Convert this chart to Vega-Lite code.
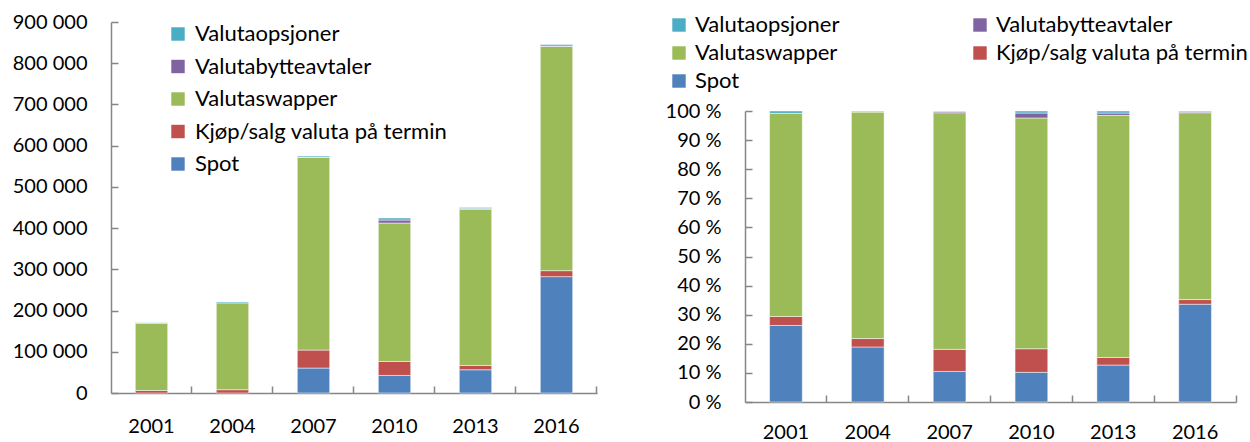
{
  "$schema": "https://vega.github.io/schema/vega-lite/v6.json",
  "padding": {"left": 12, "top": 12, "right": 0, "bottom": 0},
  "background": "white",
  "config": {
    "view": {"stroke": null},
    "font": "Lato",
    "axis": {
      "domainColor": "#868686",
      "domainWidth": 1.5,
      "tickColor": "#868686",
      "tickWidth": 1.5,
      "tickSize": -7,
      "labelFontSize": 20,
      "labelColor": "#000000",
      "labelFont": "Lato",
      "grid": false,
      "title": null
    },
    "legend": {
      "labelFontSize": 22,
      "labelFont": "Lato",
      "labelColor": "#000000",
      "symbolType": "square",
      "symbolStrokeWidth": 0,
      "symbolOpacity": 1,
      "symbolSize": 180,
      "padding": 0,
      "labelLimit": 400
    }
  },
  "datasets": {
    "abs": [
      {"year": "2001", "instrument": "Kjøp/salg valuta på termin", "rank": 2, "value": 6000},
      {"year": "2001", "instrument": "Valutaswapper", "rank": 3, "value": 162700},
      {"year": "2001", "instrument": "Valutaopsjoner", "rank": 5, "value": 1500},
      {"year": "2004", "instrument": "Kjøp/salg valuta på termin", "rank": 2, "value": 8000},
      {"year": "2004", "instrument": "Valutaswapper", "rank": 3, "value": 210500},
      {"year": "2004", "instrument": "Valutaopsjoner", "rank": 5, "value": 2500},
      {"year": "2007", "instrument": "Spot", "rank": 1, "value": 60500},
      {"year": "2007", "instrument": "Kjøp/salg valuta på termin", "rank": 2, "value": 43600},
      {"year": "2007", "instrument": "Valutaswapper", "rank": 3, "value": 467300},
      {"year": "2007", "instrument": "Valutabytteavtaler", "rank": 4, "value": 1000},
      {"year": "2007", "instrument": "Valutaopsjoner", "rank": 5, "value": 2500},
      {"year": "2010", "instrument": "Spot", "rank": 1, "value": 42600},
      {"year": "2010", "instrument": "Kjøp/salg valuta på termin", "rank": 2, "value": 33900},
      {"year": "2010", "instrument": "Valutaswapper", "rank": 3, "value": 335800},
      {"year": "2010", "instrument": "Valutabytteavtaler", "rank": 4, "value": 7300},
      {"year": "2010", "instrument": "Valutaopsjoner", "rank": 5, "value": 4800},
      {"year": "2013", "instrument": "Spot", "rank": 1, "value": 56400},
      {"year": "2013", "instrument": "Kjøp/salg valuta på termin", "rank": 2, "value": 10400},
      {"year": "2013", "instrument": "Valutaswapper", "rank": 3, "value": 378700},
      {"year": "2013", "instrument": "Valutabytteavtaler", "rank": 4, "value": 2000},
      {"year": "2013", "instrument": "Valutaopsjoner", "rank": 5, "value": 2800},
      {"year": "2016", "instrument": "Spot", "rank": 1, "value": 282300},
      {"year": "2016", "instrument": "Kjøp/salg valuta på termin", "rank": 2, "value": 14500},
      {"year": "2016", "instrument": "Valutaswapper", "rank": 3, "value": 544000},
      {"year": "2016", "instrument": "Valutabytteavtaler", "rank": 4, "value": 1000},
      {"year": "2016", "instrument": "Valutaopsjoner", "rank": 5, "value": 3900}
    ],
    "pct": [
      {"year": "2001", "instrument": "Spot", "rank": 1, "value": 26.3},
      {"year": "2001", "instrument": "Kjøp/salg valuta på termin", "rank": 2, "value": 3.1},
      {"year": "2001", "instrument": "Valutaswapper", "rank": 3, "value": 69.8},
      {"year": "2001", "instrument": "Valutaopsjoner", "rank": 5, "value": 0.8},
      {"year": "2004", "instrument": "Spot", "rank": 1, "value": 18.9},
      {"year": "2004", "instrument": "Kjøp/salg valuta på termin", "rank": 2, "value": 2.9},
      {"year": "2004", "instrument": "Valutaswapper", "rank": 3, "value": 77.85},
      {"year": "2004", "instrument": "Valutabytteavtaler", "rank": 4, "value": 0.1},
      {"year": "2004", "instrument": "Valutaopsjoner", "rank": 5, "value": 0.25},
      {"year": "2007", "instrument": "Spot", "rank": 1, "value": 10.5},
      {"year": "2007", "instrument": "Kjøp/salg valuta på termin", "rank": 2, "value": 7.6},
      {"year": "2007", "instrument": "Valutaswapper", "rank": 3, "value": 81.3},
      {"year": "2007", "instrument": "Valutabytteavtaler", "rank": 4, "value": 0.4},
      {"year": "2007", "instrument": "Valutaopsjoner", "rank": 5, "value": 0.2},
      {"year": "2010", "instrument": "Spot", "rank": 1, "value": 10.2},
      {"year": "2010", "instrument": "Kjøp/salg valuta på termin", "rank": 2, "value": 8.1},
      {"year": "2010", "instrument": "Valutaswapper", "rank": 3, "value": 79.3},
      {"year": "2010", "instrument": "Valutabytteavtaler", "rank": 4, "value": 1.7},
      {"year": "2010", "instrument": "Valutaopsjoner", "rank": 5, "value": 0.7},
      {"year": "2013", "instrument": "Spot", "rank": 1, "value": 12.7},
      {"year": "2013", "instrument": "Kjøp/salg valuta på termin", "rank": 2, "value": 2.6},
      {"year": "2013", "instrument": "Valutaswapper", "rank": 3, "value": 83.2},
      {"year": "2013", "instrument": "Valutabytteavtaler", "rank": 4, "value": 0.8},
      {"year": "2013", "instrument": "Valutaopsjoner", "rank": 5, "value": 0.7},
      {"year": "2016", "instrument": "Spot", "rank": 1, "value": 33.6},
      {"year": "2016", "instrument": "Kjøp/salg valuta på termin", "rank": 2, "value": 1.6},
      {"year": "2016", "instrument": "Valutaswapper", "rank": 3, "value": 64.2},
      {"year": "2016", "instrument": "Valutabytteavtaler", "rank": 4, "value": 0.3},
      {"year": "2016", "instrument": "Valutaopsjoner", "rank": 5, "value": 0.3}
    ]
  },
  "bounds": "flush",
  "spacing": 148,
  "resolve": {"scale": {"color": "independent"}, "legend": {"color": "independent"}},
  "hconcat": [
    {
      "width": 486,
      "height": 371,
      "data": {"name": "abs"},
      "mark": {"type": "bar", "stroke": "white", "strokeWidth": 0.5},
      "encoding": {
        "x": {
          "field": "year", "type": "ordinal",
          "scale": {"paddingInner": 0.6, "paddingOuter": 0.3},
          "axis": {"labelAngle": 0, "labelPadding": 30, "bandPosition": 1.75}
        },
        "y": {
          "field": "value", "type": "quantitative", "stack": "zero",
          "scale": {"domain": [0, 900000], "nice": false},
          "axis": {
            "values": [0, 100000, 200000, 300000, 400000, 500000, 600000, 700000, 800000, 900000],
            "labelExpr": "datum.value == 0 ? '0' : format(datum.value / 1000, 'd') + ' 000'",
            "labelPadding": 31
          }
        },
        "color": {
          "field": "instrument", "type": "nominal",
          "scale": {
            "domain": ["Valutaopsjoner", "Valutabytteavtaler", "Valutaswapper", "Kjøp/salg valuta på termin", "Spot"],
            "range": ["#4BACC6", "#8064A2", "#9BBB59", "#C0504D", "#4F81BD"]
          },
          "legend": {
            "title": null, "orient": "none", "legendX": 56, "legendY": 1,
            "labelOffset": 6, "rowPadding": 10.5
          }
        },
        "order": {"field": "rank", "type": "quantitative"}
      }
    },
    {
      "bounds": "flush",
      "spacing": 0,
      "resolve": {"scale": {"color": "independent"}, "legend": {"color": "independent"}},
      "vconcat": [
        {
          "width": 491,
          "height": 89,
          "data": {"values": []},
          "mark": {"type": "point", "opacity": 0},
          "encoding": {}
        },
        {
          "width": 491,
          "height": 291,
          "data": {"name": "pct"},
          "mark": {"type": "bar", "stroke": "white", "strokeWidth": 0.5},
          "encoding": {
            "x": {
              "field": "year", "type": "ordinal",
              "scale": {"paddingInner": 0.6, "paddingOuter": 0.3},
              "axis": {"labelAngle": 0, "labelPadding": 27, "bandPosition": 1.75}
            },
            "y": {
              "field": "value", "type": "quantitative", "stack": "zero",
              "scale": {"domain": [0, 100], "nice": false},
              "axis": {
                "values": [0, 10, 20, 30, 40, 50, 60, 70, 80, 90, 100],
                "labelExpr": "datum.value + ' %'",
                "labelPadding": 31
              }
            },
            "color": {
              "field": "instrument", "type": "nominal",
              "scale": {
                "domain": ["Valutaopsjoner", "Valutaswapper", "Spot", "Valutabytteavtaler", "Kjøp/salg valuta på termin"],
                "range": ["#4BACC6", "#9BBB59", "#4F81BD", "#8064A2", "#C0504D"]
              },
              "legend": {
                "title": null, "orient": "none", "legendX": -77, "legendY": -97,
                "columns": 2, "columnPadding": 129, "gridAlign": "each",
                "labelOffset": 5, "rowPadding": 6
              }
            },
            "order": {"field": "rank", "type": "quantitative"}
          }
        }
      ]
    }
  ]
}
